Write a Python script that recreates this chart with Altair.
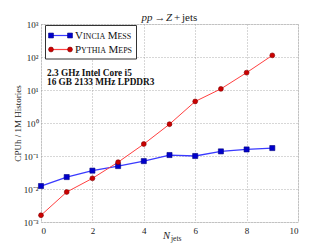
import altair as alt
import pandas as pd

njets = [0, 1, 2, 3, 4, 5, 6, 7, 8, 9]
vincia = [0.0123, 0.023, 0.036, 0.0495, 0.070, 0.107, 0.100, 0.138, 0.158, 0.174]
pythia = [0.0016, 0.0081, 0.021, 0.065, 0.23, 0.92, 4.5, 10.8, 33.6, 112]
series = ["VINCIA MESS", "PYTHIA MEPS"]
x_ticks = [0, 2, 4, 6, 8, 10]
y_ticks = [0.001, 0.01, 0.1, 1, 10, 100, 1000]
info_lines = ["2.3 GHz Intel Core i5", "16 GB 2133 MHz LPDDR3"]

W, H = 257, 198
FONT = "Liberation Serif"
BLUE_L, BLUE_M, BLUE_E = "#3a3aff", "#0000cc", "#000080"
RED_L, RED_M, RED_E = "#ff4040", "#cc0000", "#800000"

df = pd.DataFrame({
    "n": njets * 2,
    "v": vincia + pythia,
    "s": [series[0]] * len(njets) + [series[1]] * len(njets),
})

xs = alt.Scale(domain=[0, 10], nice=False)
ys = alt.Scale(type="log", domain=[0.001, 1000], nice=False)

label_expr = ("['10⁻³','10⁻²','10⁻¹','10⁰','10¹','10²','10³']"
              "[round(log(datum.value)/LN10)+3]")

xenc = alt.X("n:Q", scale=xs,
             axis=alt.Axis(values=x_ticks, title=None, grid=True, ticks=False,
                           domain=False, labelFont=FONT, labelFontSize=9,
                           labelColor="#222", labelPadding=4,
                           gridDash=[1, 2], gridColor="#999", gridWidth=0.8))
yenc = alt.Y("v:Q", scale=ys,
             axis=alt.Axis(values=y_ticks, title="CPUh / 1M Histories", grid=True,
                           ticks=False, domain=False, labelFont=FONT, labelFontSize=9,
                           labelColor="#222", labelPadding=3, labelExpr=label_expr,
                           titleFont=FONT, titleFontSize=9, titleFontWeight="normal",
                           titleColor="#222", titlePadding=1,
                           gridDash=[1, 2], gridColor="#999", gridWidth=0.8))

blue = df[df.s == series[0]]
red = df[df.s == series[1]]

lb = alt.Chart(blue).mark_line(color=BLUE_L, strokeWidth=1.3).encode(x=xenc, y=yenc)
pb = alt.Chart(blue).mark_point(shape="square", filled=True, size=26, color=BLUE_M,
                                 stroke=BLUE_E, strokeWidth=0.6, opacity=1).encode(x=xenc, y=yenc)
lr = alt.Chart(red).mark_line(color=RED_L, strokeWidth=1.0).encode(x=xenc, y=yenc)
pr = alt.Chart(red).mark_point(shape="circle", filled=True, size=24, color=RED_M,
                                stroke=RED_E, strokeWidth=0.6, opacity=1).encode(x=xenc, y=yenc)


def txt(t, x, y, size, style="normal", weight="normal", align="left", color="#111"):
    return alt.Chart(pd.DataFrame({"t": [t]})).mark_text(
        align=align, baseline="alphabetic", font=FONT, fontSize=size,
        fontStyle=style, fontWeight=weight, color=color).encode(
        x=alt.value(x), y=alt.value(y), text="t:N")


# legend box
box = alt.Chart(pd.DataFrame({"a": [0]})).mark_rect(
    fill="white", stroke="#333", strokeWidth=1.0).encode(
    x=alt.value(4.5), x2=alt.value(95.5), y=alt.value(1.5), y2=alt.value(35))


def legend_entry(name, yy, lc, mc, ec, shape):
    d = pd.DataFrame({"s": [name]})
    ln = alt.Chart(d).mark_rule(color=lc, strokeWidth=1.2).encode(
        x=alt.value(10), x2=alt.value(29), y=alt.value(yy))
    p1 = alt.Chart(d).mark_point(shape=shape, filled=True, size=24, color=mc, stroke=ec,
                                 strokeWidth=0.6, opacity=1).encode(x=alt.value(10), y=alt.value(yy))
    p2 = alt.Chart(d).mark_point(shape=shape, filled=True, size=24, color=mc, stroke=ec,
                                 strokeWidth=0.6, opacity=1).encode(x=alt.value(29), y=alt.value(yy))
    return ln + p1 + p2


def small_caps(name, x0, ybase, big=11, small=8):
    # emulate small caps: first letter of each word large, the rest small
    widths = {"V": .722, "I": .333, "N": .722, "C": .667, "A": .722, "M": .889,
              "E": .611, "S": .556, "P": .556, "Y": .722, "T": .611, "H": .722}
    layers = []
    x = x0
    for wi, word in enumerate(name.split(" ")):
        if wi > 0:
            x += 0.25 * 10
        layers.append(txt(word[0], x, ybase, big))
        x += widths[word[0]] * big
        rest = word[1:]
        layers.append(txt(rest, x, ybase, small))
        x += sum(widths[c] for c in rest) * small
    return alt.layer(*layers)


e1 = legend_entry(series[0], 11.5, BLUE_L, BLUE_M, BLUE_E, "square")
e2 = legend_entry(series[1], 25.5, RED_L, RED_M, RED_E, "circle")
t1 = small_caps(series[0], 34, 15.3)
t2 = small_caps(series[1], 34, 29.3)

info1 = txt(info_lines[0], 6, 51.5, 9.3, weight="bold")
info2 = txt(info_lines[1], 6, 61, 9.3, weight="bold")

# x axis title N_jets
xt1 = txt("N", 122, H + 16.5, 10.5, style="italic", color="#222")
xt2 = txt("jets", 130, H + 18.5, 7.5, color="#222")

# chart title: pp -> Z + jets
tt1 = txt("pp", 100.5, -3.5, 11, style="italic", color="#222")
tt2 = txt("→", 119, -3.5, 11, align="center", color="#222")
tt3 = txt("Z", 125, -3.5, 11, style="italic", color="#222")
tt4 = txt("+", 133, -3.5, 11, color="#222")
tt5 = txt("jets", 141, -3.5, 11, color="#222")

chart = alt.layer(lb, lr, pb, pr, box, e1, e2, t1, t2, info1, info2, xt1, xt2,
                  tt1, tt2, tt3, tt4, tt5).properties(
    width=W, height=H,
    autosize=alt.AutoSizeParams(type="none"),
    padding={"left": 33, "top": 16, "right": 26, "bottom": 21},
).configure_view(stroke="#666", strokeWidth=1.3).configure(background="white")

chart.save("out.html", embed_options={"renderer": "svg", "actions": False})
